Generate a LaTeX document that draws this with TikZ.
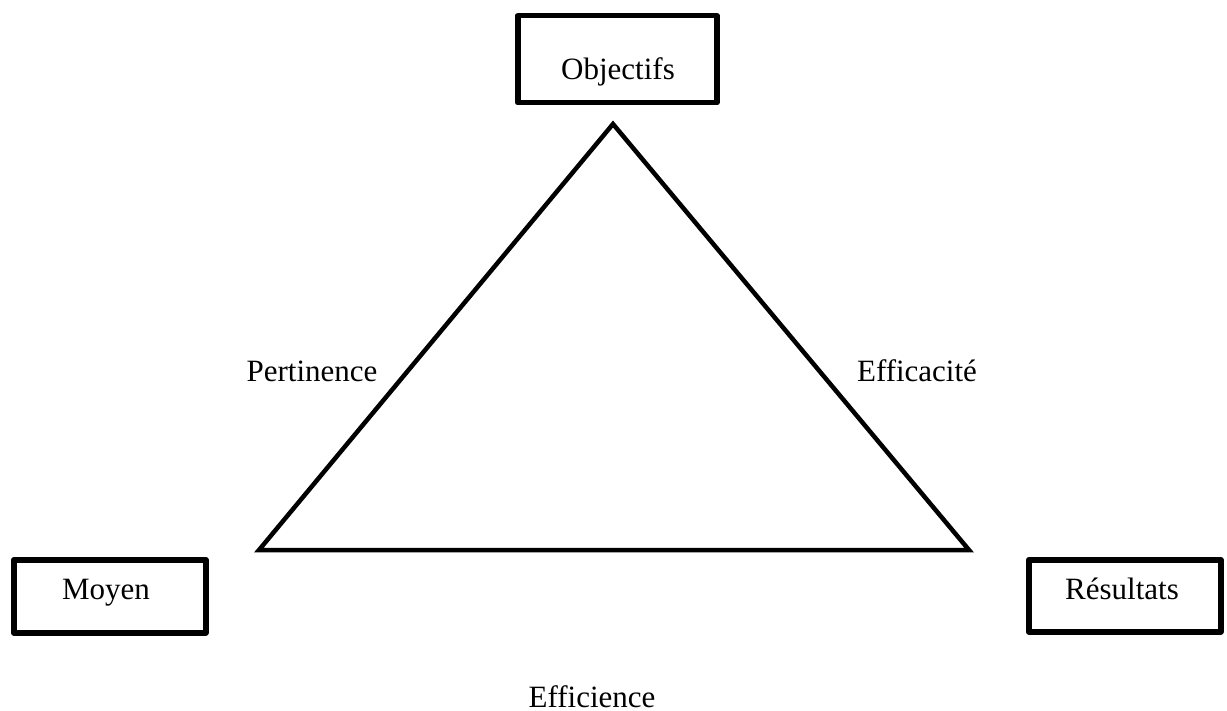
\documentclass[tikz,border=0pt]{standalone}
\usepackage{fontspec}
\setmainfont{Liberation Serif}
\begin{document}
\begin{tikzpicture}[x=1pt,y=-1pt,
  framebox/.style={draw=black,line width=5.5pt,line join=round,inner sep=0pt,anchor=north west},
  label/.style={inner sep=0pt,anchor=base,font=\fontsize{31}{37}\selectfont},
  edge/.style={draw=black,line width=4.5pt,line join=miter}]
\useasboundingbox (0,0) rectangle (1227,711);

% boxes for the three poles
\node[framebox,minimum width=199pt,minimum height=87pt] (objbox) at (515,13) {};
\node[framebox,minimum width=192pt,minimum height=73pt] (moybox) at (11,557) {};
\node[framebox,minimum width=192pt,minimum height=72pt] (resbox) at (1026,557) {};

\node[label] (obj) at (618,80) {Objectifs};
\node[label] (moy) at (106,599) {Moyen};
\node[label] (res) at (1122,599) {Résultats};

% triangle
\coordinate (apex) at (613,124);
\coordinate (bl) at (259,550);
\coordinate (br) at (969,550);
\draw[edge] (apex) -- (bl) -- (br) -- cycle;

% side labels
\node[label] (pert) at (312,382) {Pertinence};
\node[label] (effic) at (917,382) {Efficacité};
\node[label] (effie) at (592,707) {Efficience};
\end{tikzpicture}
\end{document}
